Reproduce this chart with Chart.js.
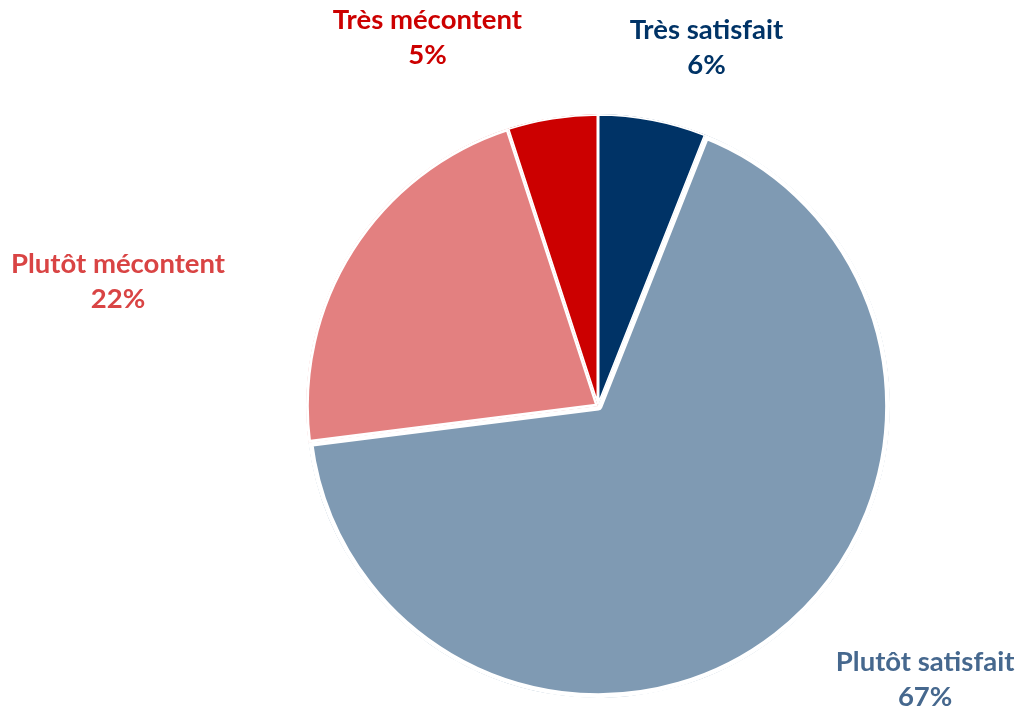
<!DOCTYPE html>
<html>
<head>
<meta charset="utf-8">
<script src="https://cdn.jsdelivr.net/npm/chart.js@4"></script>
<style>
  html, body { margin: 0; padding: 0; background: #ffffff; }
  #wrap { width: 1018px; height: 711px; position: relative; }
</style>
</head>
<body>
<div id="wrap"><canvas id="c"></canvas></div>
<script>
const categories = ["Très satisfait", "Plutôt satisfait", "Plutôt mécontent", "Très mécontent"];
const shares = [6, 67, 22, 5];
const sliceColors = ["#003366", "#7f9ab3", "#e38080", "#cc0000"];
const labelColors = ["#003366", "#46688e", "#d94444", "#cc0000"];

// label anchor (centre x, first baseline) relative to pie centre, in units of radius
const labelAnchors = [[0.374, -1.265], [1.128, 0.914], [-1.655, -0.459], [-0.588, -1.300]];

const labelPlugin = {
  id: 'outLabels',
  afterDatasetsDraw(chart) {
    const ctx = chart.ctx;
    const meta = chart.getDatasetMeta(0);
    const arc0 = meta.data[0];
    const cx = arc0.x, cy = arc0.y, r = 290;
    ctx.save();
    ctx.font = 'bold 27.5px Lato';
    ctx.textAlign = 'center';
    ctx.textBaseline = 'alphabetic';
    meta.data.forEach((arc, i) => {
      const [fx, fy] = labelAnchors[i];
      const x = cx + fx * r, y = cy + fy * r;
      ctx.fillStyle = labelColors[i];
      ctx.fillText(categories[i], x, y);
      ctx.fillText(shares[i] + '%', x, y + 35);
    });
    ctx.restore();
  }
};

new Chart(document.getElementById('c'), {
  type: 'pie',
  data: {
    labels: categories,
    datasets: [{
      data: shares,
      backgroundColor: sliceColors,
      borderColor: '#ffffff',
      borderWidth: [1.5, 4.5, 2.5, 1.5],
      borderAlign: 'inner',
      hoverOffset: 0
    }]
  },
  options: {
    responsive: true,
    maintainAspectRatio: false,
    animation: false,
    radius: 292,
    layout: { padding: { left: 178, right: 0, top: 101, bottom: 0 } },
    plugins: { legend: { display: false }, tooltip: { enabled: false } },
    events: []
  },
  plugins: [labelPlugin]
});
</script>
</body>
</html>
